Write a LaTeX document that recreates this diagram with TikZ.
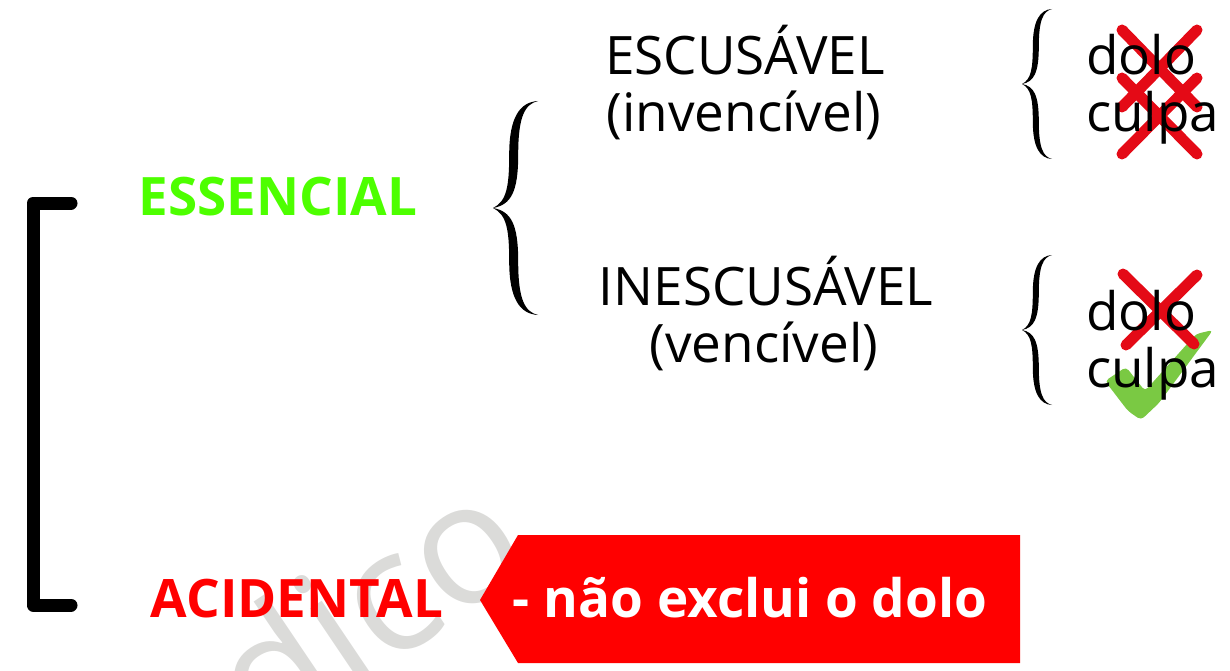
\documentclass[tikz,border=0pt]{standalone}
\usepackage{fontspec}
\setmainfont{Open Sans}
\definecolor{essgreen}{RGB}{77,255,0}
\definecolor{accred}{RGB}{255,0,0}
\definecolor{xred}{RGB}{228,10,22}
\definecolor{okgreen}{RGB}{122,201,67}
\definecolor{wmgray}{RGB}{219,219,217}
\newcommand{\bracefig}[4]{%
  \begin{scope}[shift={(#1,#2)},xscale=#3,yscale=#4]
    \fill (0,0) .. controls (0.3,0.06) and (0.36,0.2) .. (0.36,0.5)
      .. controls (0.36,0.85) and (0.6,0.99) .. (1,1)
      .. controls (0.7,0.97) and (0.56,0.85) .. (0.56,0.5)
      .. controls (0.56,0.15) and (0.4,0.03) .. cycle;
    \fill (0,0) .. controls (0.3,-0.06) and (0.36,-0.2) .. (0.36,-0.5)
      .. controls (0.36,-0.85) and (0.6,-0.99) .. (1,-1)
      .. controls (0.7,-0.97) and (0.56,-0.85) .. (0.56,-0.5)
      .. controls (0.56,-0.15) and (0.4,-0.03) .. cycle;
  \end{scope}}
\begin{document}
\begin{tikzpicture}[x=1pt,y=-1pt,
  txt/.style={font=\fontsize{53}{60}\selectfont, inner sep=0pt, anchor=base},
  btxt/.style={font=\fontsize{53}{60}\selectfont\bfseries, inner sep=0pt, anchor=base},
  crossline/.style={xred, line width=11pt, line cap=round},
  bracketline/.style={line width=13pt, line cap=round, line join=round}]
\useasboundingbox (0,0) rectangle (1230,671);
% watermark
\begin{scope}
  \clip (0,0) rectangle (1230,671);
  \node[wmgray, font=\fontsize{170}{170}\selectfont, inner sep=0pt, anchor=base east, rotate=34] (wm) at (538,566) {dico};
\end{scope}
% left bracket
\coordinate (b1) at (71,203);
\coordinate (b2) at (33,203);
\coordinate (b3) at (33,605);
\coordinate (b4) at (71,605);
\draw[bracketline] (b1) -- (b2) -- (b3) -- (b4);
% main labels
\node[btxt, essgreen] (ess) at (278,215) {ESSENCIAL};
\node[btxt, accred] (acc) at (297,617) {ACIDENTAL};
% red pentagon box
\fill[accred] (480,600) -- (518,535) -- (1020,535) -- (1020,663) -- (518,663) -- cycle;
\node[btxt, white] (nao) at (750,617) {- não exclui o dolo};
% big brace
\bracefig{493}{208}{45}{107}
% middle texts
\node[txt] (esc1) at (745,75) {ESCUSÁVEL};
\node[txt] (esc2) at (744,132) {(invencível)};
\node[txt] (ine1) at (766,305) {INESCUSÁVEL};
\node[txt] (ine2) at (764,362) {(vencível)};
% small braces
\bracefig{1022}{84}{30}{75}
\bracefig{1022}{330}{30}{75}
% check mark
\fill[okgreen, rounded corners=4pt] (1105,381) -- (1126,367) -- (1145,391) -- (1196,334) -- (1213,330) -- (1159,403) -- (1141,420) -- (1128,411) -- cycle;
% crosses
\draw[crossline] (1122,30) -- (1197,107);
\draw[crossline] (1197,30) -- (1122,107);
\draw[crossline] (1122,78) -- (1197,154);
\draw[crossline] (1197,78) -- (1122,154);
\draw[crossline] (1123,274) -- (1194,344);
\draw[crossline] (1197,275) -- (1126,345);
% right texts
\node[txt, anchor=base west] (dolo1) at (1086,75) {dolo};
\node[txt, anchor=base west] (culpa1) at (1086,132) {culpa};
\node[txt, anchor=base west] (dolo2) at (1086,330) {dolo};
\node[txt, anchor=base west] (culpa2) at (1086,387) {culpa};
\end{tikzpicture}
\end{document}
